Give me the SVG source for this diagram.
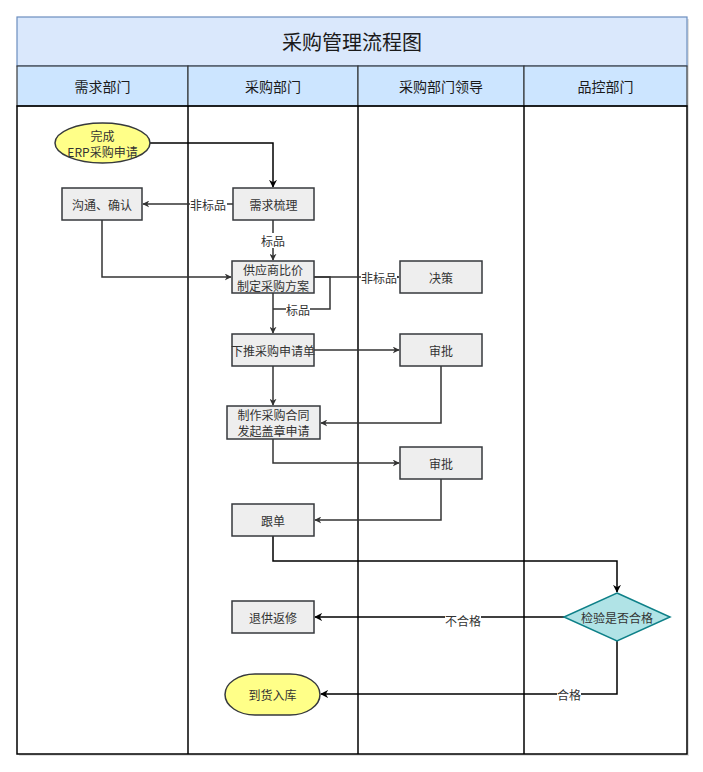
<svg xmlns="http://www.w3.org/2000/svg" width="703" height="772" viewBox="0 0 703 772">
<defs>
<marker id="ah" viewBox="0 0 10 10" refX="9" refY="5" markerWidth="7" markerHeight="7" orient="auto" markerUnits="userSpaceOnUse">
<path d="M0,0 L10,5 L0,10 L3,5 z" fill="#333333"/>
</marker>
<marker id="ahk" viewBox="0 0 10 10" refX="9" refY="5" markerWidth="8" markerHeight="8" orient="auto" markerUnits="userSpaceOnUse">
<path d="M0,0 L10,5 L0,10 L3,5 z" fill="#000000"/>
</marker>
<marker id="ahs" viewBox="0 0 10 10" refX="9" refY="5" markerWidth="4" markerHeight="4" orient="auto" markerUnits="userSpaceOnUse">
<path d="M0,0 L10,5 L0,10 L3,5 z" fill="#333333"/>
</marker>
</defs>
<style>
text{font-family:"Noto Sans CJK SC","Liberation Sans",sans-serif;fill:#333333;text-anchor:middle;dominant-baseline:central}
.title{font-size:20px;fill:#1a1a1a}
.hdr{font-size:14px;fill:#1a1a1a}
.lbl{font-size:12px}
.el{font-size:12px;fill:#333333}
.box{fill:#eeeeee;stroke:#36393d;stroke-width:1.5}
.term{fill:#ffff88;stroke:#36393d;stroke-width:1.5}
.dia{fill:#b0e3e6;stroke:#0e8088;stroke-width:1.5}
.lane{fill:none;stroke:#000000;stroke-width:1.5}
.hcell{fill:#cce5ff;stroke:#36393d;stroke-width:1.2}
.e{fill:none;stroke:#333333;stroke-width:1.5}
.ek{fill:none;stroke:#000000;stroke-width:1.5}
.lb{fill:#ffffff}
</style>
<rect x="0" y="0" width="703" height="772" fill="#ffffff"/>
<g id="pool">
<rect x="19" y="19" width="670" height="737" fill="#cccccc" opacity="0.6"/>
<rect x="17" y="17" width="670" height="737" fill="#ffffff"/>
<rect x="17" y="17" width="670" height="49" fill="#dae8fc" stroke="#6c8ebf" stroke-width="1.2"/>
<text class="title" x="352" y="41.5">采购管理流程图</text>
<rect class="hcell" x="17" y="66" width="171" height="40"/>
<rect class="hcell" x="188" y="66" width="170" height="40"/>
<rect class="hcell" x="358" y="66" width="166" height="40"/>
<rect class="hcell" x="524" y="66" width="163" height="40"/>
<text class="hdr" x="102.5" y="86">需求部门</text>
<text class="hdr" x="273" y="86">采购部门</text>
<text class="hdr" x="441" y="86">采购部门领导</text>
<text class="hdr" x="605.5" y="86">品控部门</text>
<rect class="lane" x="17" y="106" width="670" height="648"/>
<line class="lane" x1="188" y1="106" x2="188" y2="754"/>
<line class="lane" x1="358" y1="106" x2="358" y2="754"/>
<line class="lane" x1="524" y1="106" x2="524" y2="754"/>
</g>
<g id="connectors">
<path class="ek" d="M150,143 L273,143 L273,187" marker-end="url(#ahk)"/>
<path class="e" d="M233,204 L143,204" marker-end="url(#ah)"/>
<rect class="lb" x="190" y="196" width="37" height="16"/>
<text class="el" x="208" y="204">非标品</text>
<path class="e" d="M273,220 L273,260" marker-end="url(#ah)"/>
<rect class="lb" x="261" y="233" width="24" height="15"/>
<text class="el" x="273" y="240">标品</text>
<path class="e" d="M102,220 L102,277 L231,277" marker-end="url(#ah)"/>
<path class="e" d="M314,277 L399,277" marker-end="url(#ahs)"/>
<rect class="lb" x="361" y="269" width="36" height="16"/>
<text class="el" x="379" y="277">非标品</text>
<path class="e" d="M314,277 L330,277 L330,309 L273,309"/>
<rect class="lb" x="286" y="302" width="24" height="15"/>
<text class="el" x="298" y="309">标品</text>
<path class="e" d="M273,293 L273,333" marker-end="url(#ah)"/>
<path class="e" d="M314,350 L399,350" marker-end="url(#ah)"/>
<path class="e" d="M273,366 L273,405" marker-end="url(#ah)"/>
<path class="e" d="M441,366 L441,423 L321,423" marker-end="url(#ah)"/>
<path class="e" d="M273,439 L273,463 L399,463" marker-end="url(#ah)"/>
<path class="e" d="M441,479 L441,520 L315,520" marker-end="url(#ah)"/>
<path class="ek" d="M273,536 L273,561 L617,561 L617,592" marker-end="url(#ahk)"/>
<path class="ek" d="M564,617 L315,617" marker-end="url(#ahk)"/>
<rect class="lb" x="445" y="613" width="36" height="15"/>
<text class="el" x="463" y="620.5">不合格</text>
<path class="ek" d="M617,641 L617,694 L321,694" marker-end="url(#ahk)"/>
<rect class="lb" x="557" y="687" width="24" height="15"/>
<text class="el" x="569" y="694">合格</text>
</g>
<g id="n_start">
<ellipse class="term" cx="102.5" cy="143" rx="47.5" ry="20"/>
<text class="lbl" x="102.5" y="135">完成</text>
<text class="lbl" x="102.5" y="151">ERP采购申请</text>
</g>
<g id="n_confirm">
<rect class="box" x="62" y="188" width="80" height="32"/>
<text class="lbl" x="102" y="204">沟通、确认</text>
</g>
<g id="n_sort">
<rect class="box" x="233" y="188" width="81" height="32"/>
<text class="lbl" x="273.5" y="204">需求梳理</text>
</g>
<g id="n_compare">
<rect class="box" x="232" y="261" width="82" height="32"/>
<text class="lbl" x="273" y="269">供应商比价</text>
<text class="lbl" x="273" y="285">制定采购方案</text>
</g>
<g id="n_decide">
<rect class="box" x="400" y="261" width="82" height="32"/>
<text class="lbl" x="441" y="277">决策</text>
</g>
<g id="n_push">
<rect class="box" x="232" y="334" width="82" height="32"/>
<text class="lbl" x="273" y="350">下推采购申请单</text>
</g>
<g id="n_approve1">
<rect class="box" x="400" y="334" width="82" height="32"/>
<text class="lbl" x="441" y="350">审批</text>
</g>
<g id="n_contract">
<rect class="box" x="227" y="406" width="93" height="33"/>
<text class="lbl" x="273.5" y="414.5">制作采购合同</text>
<text class="lbl" x="273.5" y="430.5">发起盖章申请</text>
</g>
<g id="n_approve2">
<rect class="box" x="400" y="447" width="82" height="32"/>
<text class="lbl" x="441" y="463">审批</text>
</g>
<g id="n_follow">
<rect class="box" x="232" y="504" width="82" height="32"/>
<text class="lbl" x="273" y="520">跟单</text>
</g>
<g id="n_check">
<polygon class="dia" points="617,593 670,617 617,641 564,617"/>
<text class="lbl" x="617" y="617">检验是否合格</text>
</g>
<g id="n_return">
<rect class="box" x="232" y="601" width="82" height="32"/>
<text class="lbl" x="273" y="617">退供返修</text>
</g>
<g id="n_stock">
<rect class="term" x="225" y="674" width="95" height="41" rx="30" ry="20.5"/>
<text class="lbl" x="272.5" y="694.5">到货入库</text>
</g>
</svg>
